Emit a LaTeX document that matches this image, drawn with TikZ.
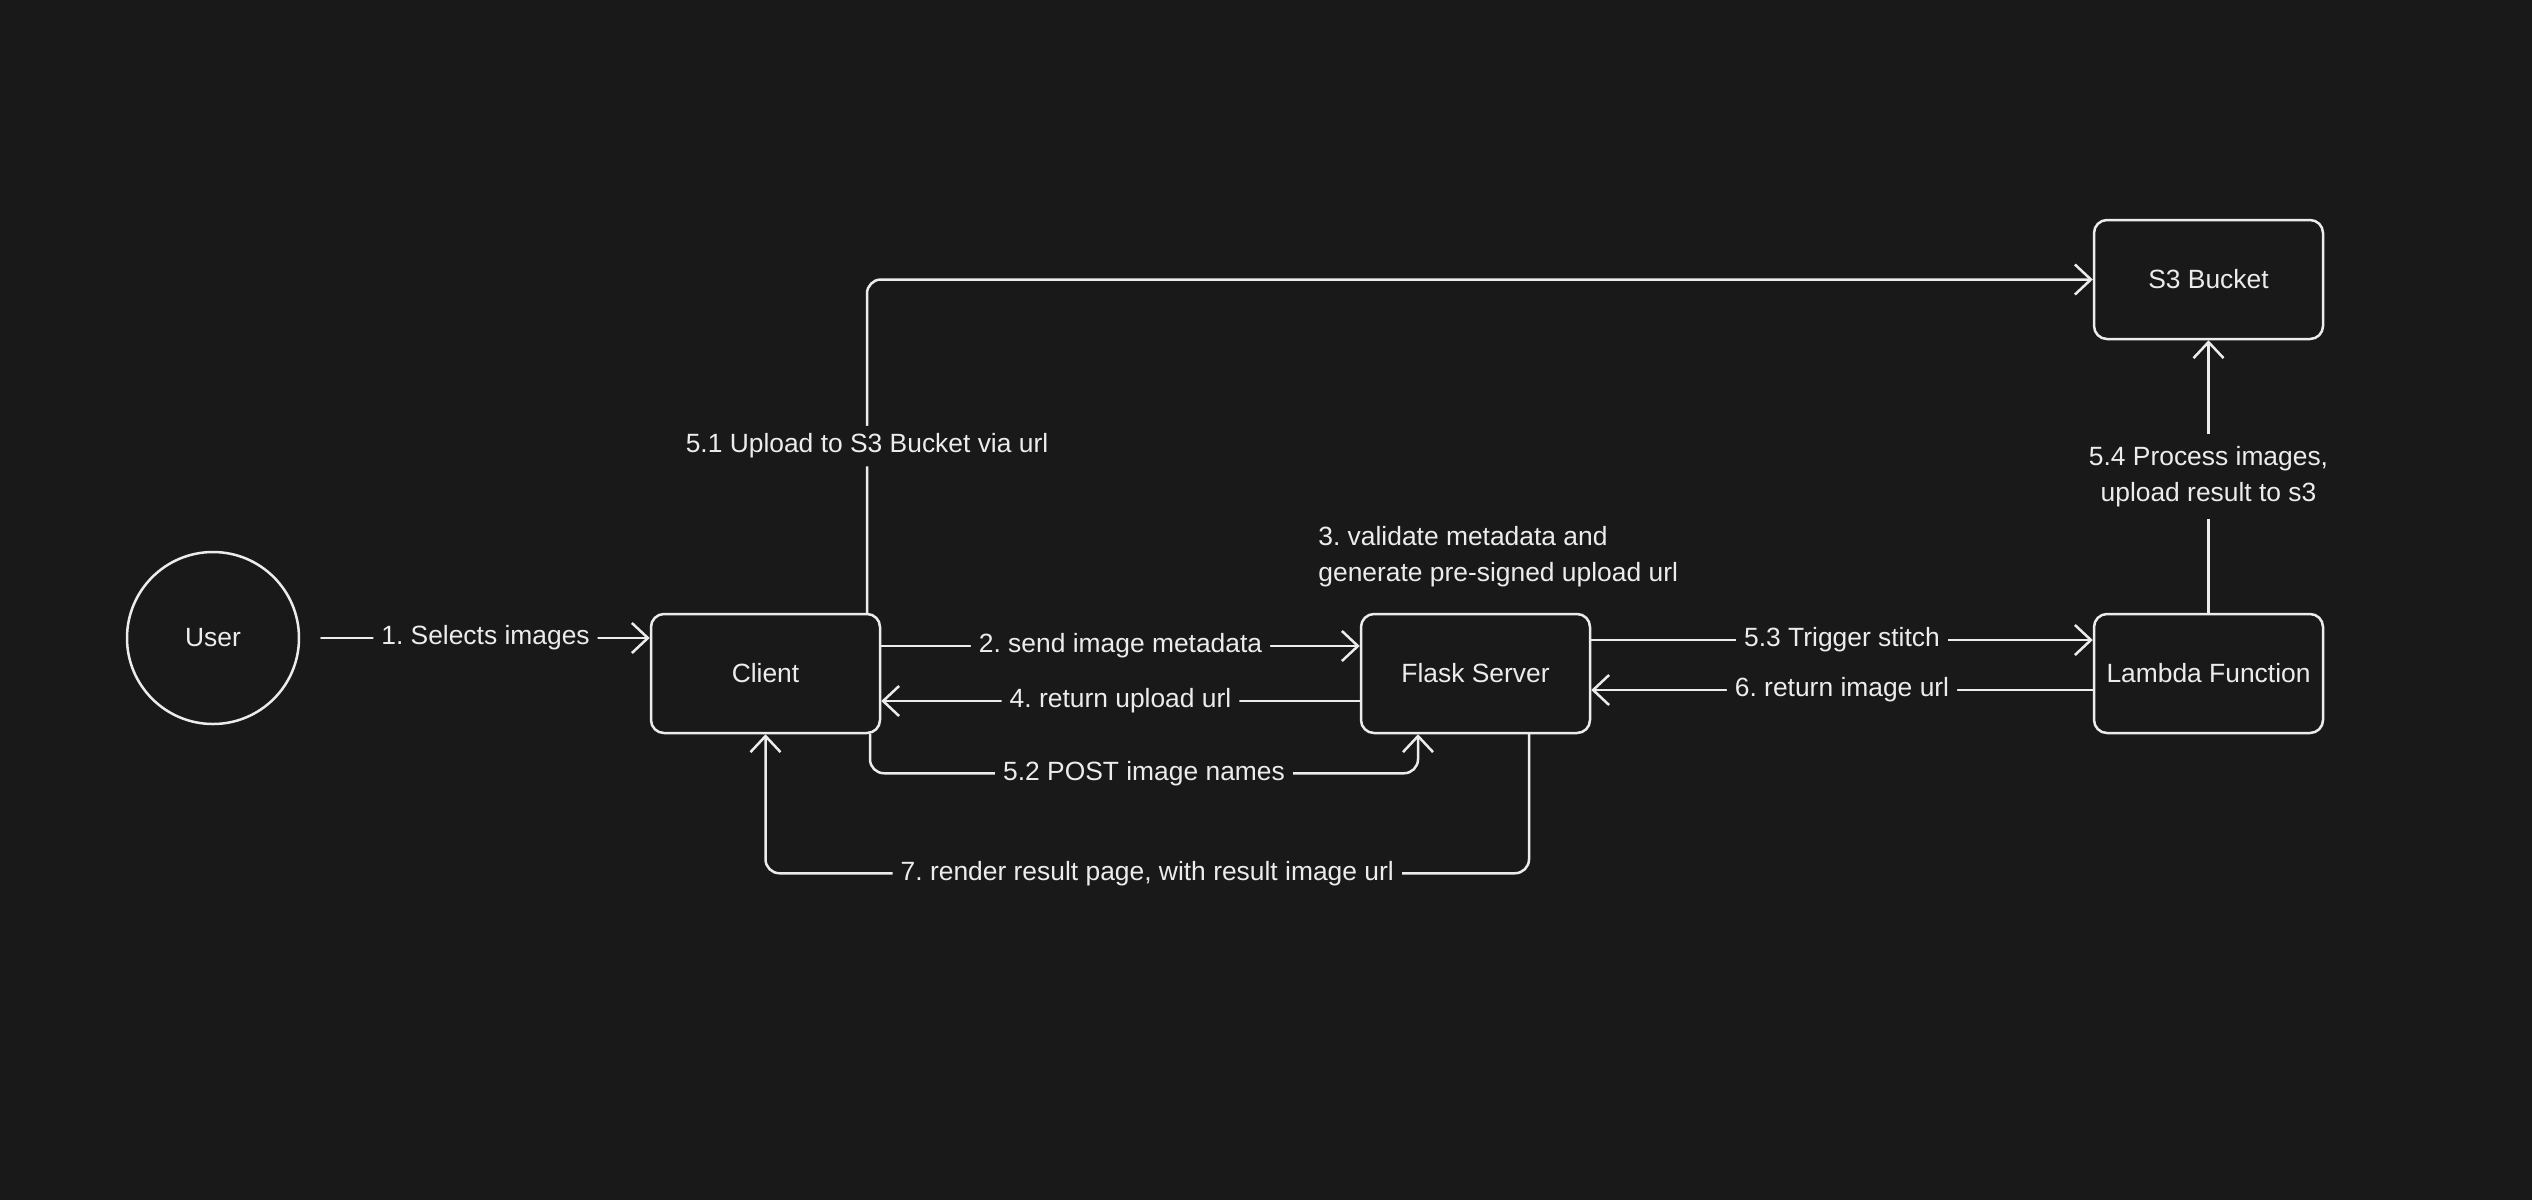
\documentclass[tikz,border=0pt]{standalone}
\usepackage{fontspec}
\setmainfont{Liberation Sans}
\usetikzlibrary{arrows.meta,calc}
\definecolor{bg}{RGB}{25,25,25}
\definecolor{fg}{RGB}{236,236,236}
\frenchspacing
\begin{document}
\begin{tikzpicture}[x=0.5pt,y=-0.5pt,
  every node/.style={text=fg, font=\fontsize{13.2pt}{18pt}\selectfont\frenchspacing},
  boxnode/.style={draw=fg, line width=1.25pt, rounded corners=6.5pt, minimum width=114.5pt, minimum height=59.5pt, inner sep=2pt},
  circnode/.style={draw=fg, line width=1.25pt, circle, minimum size=86pt, inner sep=0pt},
  arr/.style={draw=fg, line width=1.25pt, line cap=round, rounded corners=7pt, -{Straight Barb[length=8pt,width=15pt,line width=1.25pt]}},
  lbl/.style={fill=bg, inner xsep=4pt, inner ysep=4pt},
  txt/.style={inner sep=0pt}
]
\fill[bg] (0,0) rectangle (2532,1200);
\useasboundingbox (0,0) rectangle (2532,1200);

\node[circnode] (user) at (213,638) {User};
\node[boxnode] (client) at (765.5,673.5) {Client};
\node[boxnode] (flask) at (1475.5,673.5) {Flask Server};
\node[boxnode] (lambda) at (2208.5,673.5) {Lambda Function};
\node[boxnode] (s3) at (2208.5,279.5) {S3 Bucket};

\node[txt, anchor=west, align=left] (note) at (1318,557) {3. validate metadata and\\generate pre-signed upload url};

% 1
\draw[arr] ([xshift=10.5pt]user.east) -- node[lbl] {1. Selects images} (client.west |- user.east);
% 2
\draw[arr] ([yshift=13.75pt]client.east) -- node[lbl] {2. send image metadata} ([yshift=13.75pt]flask.west);
% 4
\draw[arr] ([yshift=-13.75pt]flask.west) -- node[lbl] {4. return upload url} ([yshift=-13.75pt]client.east);
% 5.1
\draw[arr] ([xshift=50.75pt]client.north) |- node[lbl, pos=0.25] {5.1 Upload to S3 Bucket via url} (s3.west);
% 5.2
\draw[arr] ([xshift=52.25pt]client.south) -- ++(0,39) -| node[lbl, pos=0.25] {5.2 POST image names} ([xshift=-28.75pt]flask.south);
% 5.3
\draw[arr] ([yshift=16.75pt]flask.east) -- node[lbl] {5.3 Trigger stitch} ([yshift=16.75pt]lambda.west);
% 6
\draw[arr] ([yshift=-8.25pt]lambda.west) -- node[lbl] {6. return image url} ([yshift=-8.25pt]flask.east);
% 5.4
\draw[arr] (lambda.north) -- node[lbl, align=center, inner ysep=6pt] {5.4 Process images,\\upload result to s3} (s3.south);
% 7
\draw[arr] ([xshift=26.75pt]flask.south) -- ++(0,139) -| node[lbl, pos=0.25] {7. render result page, with result image url} (client.south);
\end{tikzpicture}
\end{document}
